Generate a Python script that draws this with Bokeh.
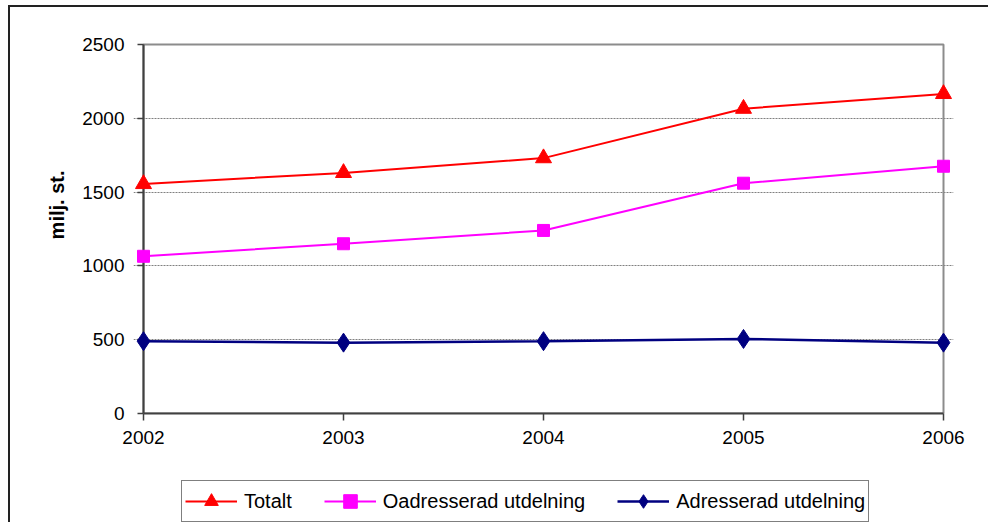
from bokeh.plotting import figure
from bokeh.models import Range1d, FixedTicker, Legend, LegendItem, Title
from bokeh.layouts import column
from bokeh.embed import file_html
from bokeh.resources import INLINE

years = [2002, 2003, 2004, 2005, 2006]
year_labels = ["2002", "2003", "2004", "2005", "2006"]
totalt = [1555, 1630, 1730, 2065, 2165]
oadresserad = [1065, 1150, 1240, 1560, 1675]
adresserad = [490, 480, 490, 505, 480]
y_ticks = [0, 500, 1000, 1500, 2000, 2500]
series_names = ["Totalt", "Oadresserad utdelning", "Adresserad utdelning"]

FONT = "Liberation Sans"
X0, X1 = years[0], years[-1]
Y0, Y1 = y_ticks[0], y_ticks[-1]
PAD = 0.05   # room so edge markers are not clipped (about 10 px)
YPAD = 20

p = figure(width=978, height=465, output_backend="svg", toolbar_location=None,
           x_range=Range1d(X0 - PAD, X1 + PAD), y_range=Range1d(Y0, Y1 + YPAD),
           min_border_left=123, min_border_right=35, min_border_top=34, min_border_bottom=59)
p.background_fill_color = "white"
p.border_fill_color = "white"
p.outline_line_color = None

# plot-area box (top and right edges grey) and the y-axis line at the first year
p.quad(left=[X0], right=[X1], bottom=[Y0], top=[Y1], fill_color=None,
       line_color="#8c8c8c", line_width=2)
p.segment(x0=[X0], y0=[Y0], x1=[X0], y1=[Y1], line_color="#404040", line_width=2)

# x axis
p.xaxis.ticker = FixedTicker(ticks=years)
p.xaxis.major_label_overrides = {y: l for y, l in zip(years, year_labels)}
p.xaxis.bounds = (X0, X1)
p.xaxis.axis_line_color = "#404040"
p.xaxis.major_tick_out = 7
p.xaxis.major_tick_in = 0
p.xaxis.major_label_standoff = 10
# y axis: sits at the frame edge (10 px left of the first year); ticks shifted to the year line
p.yaxis.ticker = FixedTicker(ticks=y_ticks)
p.yaxis.bounds = (Y0, Y1)
p.yaxis.axis_line_color = None
p.yaxis.major_tick_in = 10
p.yaxis.major_tick_out = -4
p.yaxis.major_label_standoff = 9
for ax in (p.xaxis, p.yaxis):
    ax.axis_line_width = 2
    ax.minor_tick_line_color = None
    ax.major_tick_line_color = "#404040"
    ax.major_tick_line_width = 1.5
    ax.major_label_text_font = FONT
    ax.major_label_text_font_size = "19px"
    ax.major_label_text_color = "black"

ytitle = Title(text="milj. st.", align="right", offset=129, standoff=23,
               text_font=FONT, text_font_size="20px", text_font_style="bold", text_color="black")
p.add_layout(ytitle, "left")

p.xgrid.grid_line_color = None
p.ygrid.grid_line_color = "#808080"
p.ygrid.grid_line_dash = "2 1"
p.ygrid.grid_line_width = 1
p.ygrid.bounds = (X0, X1)
p.ygrid.ticker = FixedTicker(ticks=y_ticks[1:-1])

styles = [
    dict(line_color="#ff0000", marker="triangle", size=16, line_width=2),
    dict(line_color="#ff00ff", marker="square", size=12, line_width=2),
    dict(line_color="#000080", marker="diamond", size=19, line_width=2.5),
]
series = [totalt, oadresserad, adresserad]
for vals, st in zip(series, styles):
    p.line(years, vals, line_color=st["line_color"], line_width=st["line_width"], level="overlay")
    p.scatter(years, vals, marker=st["marker"], size=st["size"], fill_color=st["line_color"],
              line_color=st["line_color"], level="overlay")

# legend strip below the chart (its own renderers fall outside its visible range)
lg = figure(width=978, height=50, output_backend="svg", toolbar_location=None,
            x_range=Range1d(0, 100), y_range=Range1d(0, 50), x_axis_type=None, y_axis_type=None,
            min_border_left=0, min_border_right=0, min_border_top=0, min_border_bottom=0)
lg.outline_line_color = None
lg.xgrid.grid_line_color = None
lg.ygrid.grid_line_color = None
items = []
for name, vals, st in zip(series_names, series, styles):
    r1 = lg.line(years, vals, line_color=st["line_color"], line_width=st["line_width"])
    r2 = lg.scatter(years, vals, marker=st["marker"], size=st["size"], fill_color=st["line_color"],
                    line_color=st["line_color"])
    items.append(LegendItem(label=name, renderers=[r1, r2]))
legend = Legend(items=items, location=(48, 0), orientation="horizontal")
legend.label_text_font = FONT
legend.label_text_font_size = "20px"
legend.label_text_color = "black"
legend.glyph_width = 52
legend.glyph_height = 34
legend.label_standoff = 7
legend.spacing = 32
legend.padding = 3
legend.margin = 0
legend.border_line_color = "black"
legend.border_line_width = 1
legend.background_fill_color = "white"
legend.background_fill_alpha = 1
lg.add_layout(legend, "center")

layout = column(p, lg, spacing=0)
layout.styles = {"margin-left": "8px", "margin-top": "5px",
                 "border-top": "2px solid #222222", "border-left": "2px solid #222222"}

open("out.html", "w").write(file_html(layout, INLINE))
